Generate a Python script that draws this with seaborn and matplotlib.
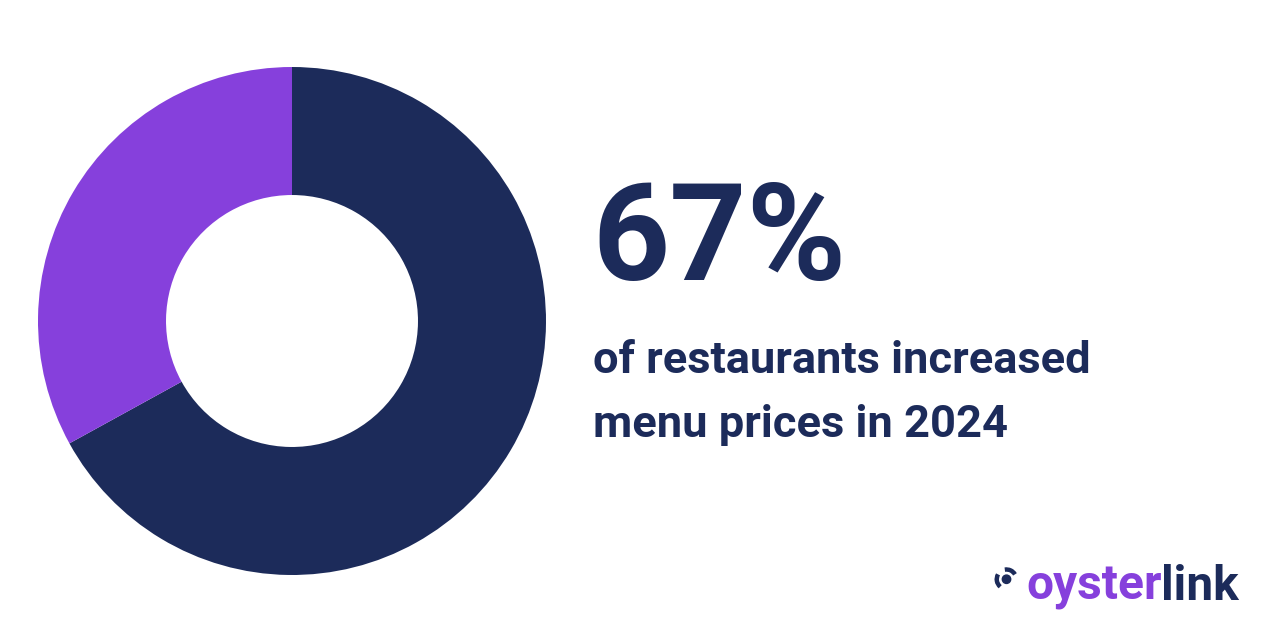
import matplotlib
matplotlib.use("Agg")
import matplotlib.pyplot as plt
import seaborn as sns
from matplotlib.patches import Arc, Circle

# data
labels = ["Increased prices", "Did not increase"]
shares = [67, 33]
colors = ["#1C2B5A", "#8640DC"]
headline = "67%"
caption_lines = ["of restaurants increased", "menu prices in 2024"]

sns.set_theme(style="white")
plt.rcParams['font.family'] = ['Roboto', 'DejaVu Sans']

W, H = 1280, 640
fig = plt.figure(figsize=(W / 100, H / 100), dpi=100)
fig.patch.set_facecolor("white")

# donut, centre ~ (292, 321) px, radius 254 px
ax = fig.add_axes([38 / W, 65 / H, 508 / W, 508 / H])
ax.pie(shares, colors=colors, startangle=90, counterclock=False,
       radius=1, wedgeprops=dict(width=0.504, edgecolor="none"))
ax.set_xlim(-1, 1)
ax.set_ylim(-1, 1)
ax.set_aspect("equal")
ax.axis("off")

# text
fig.text(592 / W, 1 - 280 / H, headline, fontsize=97, fontweight="bold",
         color=colors[0], ha="left", va="baseline")
for i, line in enumerate(caption_lines):
    fig.text(593 / W, 1 - (373 + 64 * i) / H, line, fontsize=32.6,
             fontweight="bold", color=colors[0], ha="left", va="baseline")

# logo
t1 = fig.text(1026 / W, 1 - 600 / H, "oyster", fontsize=34.5, fontweight="bold",
              color=colors[1], ha="left", va="baseline")
fig.canvas.draw()
bb = t1.get_window_extent()
fig.text((bb.x1 - 1) / W, 1 - 600 / H, "link", fontsize=34.5, fontweight="bold",
         color=colors[0], ha="left", va="baseline")
lax = fig.add_axes([990 / W, 1 - 595 / H, 30 / W, 30 / H])
lax.set_xlim(-1, 1)
lax.set_ylim(-1, 1)
lax.set_aspect("equal")
lax.axis("off")
lax.add_patch(Circle((0.1, 0.05), 0.28, color=colors[0]))
lax.add_patch(Arc((0.1, 0.05), 1.3, 1.3, angle=0, theta1=150, theta2=230,
                  color=colors[0], lw=3.2))
lax.add_patch(Arc((0.1, 0.05), 1.3, 1.3, angle=0, theta1=30, theta2=100,
                  color=colors[0], lw=3.2))

fig.savefig("out.png", dpi=100, facecolor="white")
